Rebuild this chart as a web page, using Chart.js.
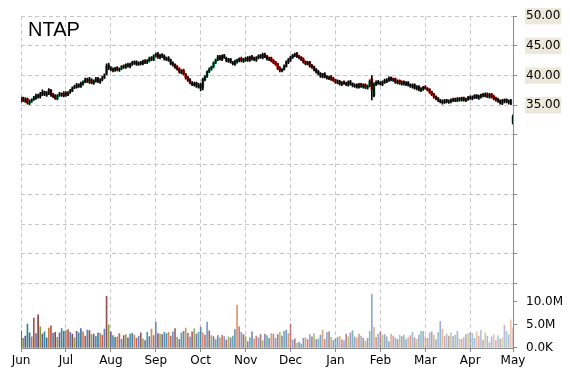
<!DOCTYPE html>
<html>
<head>
<meta charset="utf-8">
<script src="https://cdn.jsdelivr.net/npm/chart.js@4.4.1/dist/chart.umd.min.js"></script>
<style>
  html, body { margin: 0; padding: 0; background: #fff; }
  #wrap { position: relative; width: 570px; height: 370px; }
  #ticker { position: absolute; left: 28px; top: 18px; font: 20px "Liberation Sans", Arial, sans-serif; color: #000; }
</style>
</head>
<body>
<div id="wrap">
  <canvas id="chart" width="570" height="370"></canvas>
  <div id="ticker">NTAP</div>
</div>
<script>
// months on the x axis and how many trading days each one has
const monthNames = ["Jun", "Jul", "Aug", "Sep", "Oct", "Nov", "Dec", "Jan", "Feb", "Mar", "Apr", "May"];
const monthDays = [21, 21, 21, 21, 21, 21, 21, 21, 21, 21, 20, 1];

// daily prices, one line per month
const opens = [
  35.8, 36.2, 35.7, 36.1, 35.3, 35.7, 36.0, 36.2, 36.7, 36.4, 36.8, 37.3, 36.7, 37.0, 37.5, 36.8, 36.6, 36.1, 36.7, 37.0, 36.6,
  37.1, 36.7, 37.2, 37.4, 38.0, 38.0, 38.5, 38.1, 38.6, 38.9, 39.4, 38.9, 39.3, 38.7, 39.0, 39.5, 38.9, 39.3, 39.7, 40.3, 41.8,
  41.3, 41.0, 40.9, 41.3, 40.9, 41.2, 41.6, 41.4, 41.9, 41.5, 41.9, 42.1, 42.3, 41.9, 42.2, 42.0, 42.5, 42.2, 42.5, 43.0, 42.7,
  43.3, 43.7, 43.0, 43.5, 43.3, 42.7, 43.0, 42.6, 42.1, 41.9, 41.5, 41.2, 40.5, 40.9, 40.2, 39.7, 39.3, 38.8, 38.4, 38.8, 38.1,
  38.5, 38.0, 39.3, 39.9, 40.7, 41.1, 41.5, 42.2, 42.7, 43.2, 42.7, 43.4, 42.9, 42.4, 42.8, 42.2, 41.9, 42.3, 42.5, 42.9, 42.4,
  42.6, 43.0, 42.6, 43.2, 42.9, 42.6, 43.0, 43.4, 43.0, 43.6, 43.3, 42.7, 43.0, 42.6, 42.3, 42.0, 41.3, 40.8, 41.1, 41.5, 42.2,
  42.6, 43.0, 43.4, 43.7, 43.1, 43.1, 42.8, 42.4, 41.9, 42.3, 41.7, 41.5, 41.1, 40.7, 40.4, 39.8, 40.3, 39.9, 39.5, 39.8, 39.5,
  39.3, 38.8, 39.0, 38.5, 38.9, 38.8, 38.4, 39.0, 38.7, 38.2, 38.5, 38.0, 38.6, 38.1, 38.5, 37.9, 38.3, 39.5, 36.6, 38.5, 39.0,
  38.8, 38.5, 38.8, 39.3, 39.1, 39.7, 39.2, 39.5, 38.8, 39.2, 38.6, 39.0, 38.5, 38.9, 38.5, 38.1, 38.5, 37.8, 38.2, 37.5, 37.7,
  38.1, 37.8, 37.7, 37.3, 36.9, 36.5, 36.2, 35.8, 35.7, 35.4, 35.9, 35.5, 35.6, 35.8, 36.1, 35.7, 36.2, 35.8, 36.3, 35.8, 36.0,
  36.4, 36.1, 36.3, 36.7, 36.2, 36.4, 36.8, 36.5, 36.9, 36.4, 36.9, 36.5, 36.2, 36.0, 35.8, 35.3, 35.6, 36.0, 35.7, 35.3,
  32.0
];
const highs = [
  36.4, 36.4, 36.3, 36.2, 35.9, 36.1, 36.5, 36.9, 36.9, 37.2, 37.6, 37.4, 37.3, 37.8, 37.7, 37.0, 36.8, 36.8, 37.2, 37.1, 37.3,
  37.3, 37.3, 37.7, 38.1, 38.4, 38.7, 38.6, 38.9, 39.1, 39.6, 39.6, 39.7, 39.5, 39.3, 39.7, 39.7, 39.5, 39.9, 40.3, 42.0, 42.1,
  41.5, 41.3, 41.4, 41.5, 41.3, 41.7, 41.8, 42.0, 42.1, 42.1, 42.4, 42.5, 42.5, 42.3, 42.4, 42.6, 42.7, 42.7, 43.1, 43.2, 43.5,
  43.8, 43.9, 43.6, 43.7, 43.5, 43.1, 43.2, 42.8, 42.3, 42.0, 41.7, 41.3, 41.0, 41.1, 40.4, 39.9, 39.5, 39.0, 38.9, 38.9, 38.7,
  38.7, 39.6, 40.0, 40.8, 41.3, 41.6, 42.3, 42.8, 43.4, 43.4, 43.5, 43.6, 43.1, 42.9, 42.9, 42.4, 42.6, 42.8, 43.0, 43.1, 42.9,
  43.1, 43.2, 43.3, 43.4, 43.1, 43.2, 43.5, 43.6, 43.8, 43.8, 43.4, 43.1, 43.1, 42.7, 42.4, 42.1, 41.5, 41.2, 41.8, 42.5, 42.9,
  43.3, 43.6, 43.8, 43.9, 43.4, 43.2, 43.0, 42.5, 42.4, 42.4, 41.9, 41.6, 41.2, 40.9, 40.5, 40.4, 40.5, 40.0, 39.9, 40.0, 39.7,
  39.4, 39.3, 39.2, 39.0, 39.1, 38.9, 39.1, 39.2, 38.8, 38.6, 38.6, 38.7, 38.7, 38.6, 38.6, 38.4, 39.3, 40.0, 38.8, 39.1, 39.2,
  39.0, 39.1, 39.4, 39.5, 39.8, 39.8, 39.6, 39.6, 39.3, 39.3, 39.1, 39.1, 39.0, 39.0, 38.6, 38.6, 38.6, 38.3, 38.3, 38.0, 38.2,
  38.3, 38.0, 37.8, 37.4, 37.0, 36.6, 36.3, 36.0, 35.9, 36.0, 36.0, 35.9, 36.1, 36.2, 36.2, 36.3, 36.3, 36.4, 36.4, 36.2, 36.5,
  36.6, 36.6, 36.8, 36.8, 36.7, 36.9, 37.0, 37.1, 37.1, 37.0, 37.0, 36.7, 36.4, 36.2, 35.9, 36.0, 36.1, 36.1, 35.9, 36.0,
  33.4
];
const lows = [
  35.5, 35.6, 35.5, 35.2, 35.1, 35.5, 35.8, 36.0, 36.2, 36.2, 36.6, 36.6, 36.5, 36.8, 36.5, 36.3, 36.0, 35.9, 36.5, 36.5, 36.4,
  36.5, 36.6, 37.0, 37.3, 37.8, 37.9, 38.0, 38.0, 38.4, 38.8, 38.8, 38.7, 38.6, 38.5, 38.9, 38.8, 38.7, 39.1, 39.5, 40.1, 41.0,
  40.8, 40.6, 40.7, 40.8, 40.7, 41.0, 41.2, 41.2, 41.4, 41.3, 41.7, 41.9, 41.7, 41.7, 41.8, 41.8, 42.0, 42.0, 42.3, 42.5, 42.5,
  43.1, 42.9, 42.8, 43.0, 42.6, 42.5, 42.4, 41.8, 41.6, 41.2, 40.9, 40.4, 40.3, 40.1, 39.4, 39.0, 38.6, 38.3, 38.2, 38.0, 37.9,
  37.4, 37.6, 39.1, 39.7, 40.5, 40.9, 41.3, 42.0, 42.5, 42.6, 42.5, 42.9, 42.3, 42.2, 42.1, 41.8, 41.7, 42.1, 42.3, 42.3, 42.2,
  42.4, 42.4, 42.4, 42.6, 42.5, 42.4, 42.8, 42.9, 42.8, 43.0, 42.6, 42.5, 42.3, 42.0, 41.7, 41.0, 40.6, 40.6, 40.9, 41.4, 42.0,
  42.4, 42.9, 43.2, 43.0, 42.8, 42.5, 42.1, 41.8, 41.8, 41.4, 41.2, 40.8, 40.4, 40.1, 39.7, 39.6, 39.6, 39.4, 39.3, 39.2, 39.0,
  38.7, 38.6, 38.4, 38.3, 38.5, 38.3, 38.2, 38.4, 38.1, 38.0, 37.9, 37.9, 38.0, 37.9, 37.8, 37.7, 38.1, 35.9, 36.4, 38.3, 38.5,
  38.4, 38.3, 38.7, 38.8, 39.0, 39.1, 39.0, 38.7, 38.6, 38.5, 38.4, 38.4, 38.3, 38.2, 38.0, 37.9, 37.7, 37.6, 37.4, 37.3, 37.5,
  37.7, 37.4, 37.0, 36.6, 36.2, 35.9, 35.6, 35.4, 35.2, 35.3, 35.4, 35.3, 35.4, 35.6, 35.6, 35.6, 35.7, 35.7, 35.7, 35.6, 35.8,
  36.0, 35.9, 36.1, 36.1, 36.0, 36.2, 36.4, 36.4, 36.3, 36.2, 36.2, 35.9, 35.7, 35.5, 35.2, 35.1, 35.4, 35.4, 35.2, 35.1,
  31.8
];
const closes = [
  36.1, 35.8, 36.0, 35.4, 35.6, 35.9, 36.3, 36.6, 36.4, 36.9, 37.2, 36.8, 37.0, 37.6, 36.7, 36.5, 36.2, 36.6, 36.9, 36.7, 37.0,
  36.8, 37.1, 37.5, 37.9, 38.1, 38.4, 38.2, 38.7, 38.9, 39.3, 39.0, 39.4, 38.8, 39.1, 39.4, 39.0, 39.2, 39.6, 40.1, 41.6, 41.3,
  41.1, 40.9, 41.2, 41.0, 41.1, 41.5, 41.4, 41.8, 41.6, 41.9, 42.2, 42.3, 41.9, 42.1, 42.0, 42.4, 42.2, 42.5, 42.9, 42.7, 43.2,
  43.6, 43.1, 43.4, 43.3, 42.8, 42.9, 42.6, 42.0, 41.9, 41.4, 41.1, 40.6, 40.8, 40.3, 39.6, 39.2, 38.9, 38.5, 38.7, 38.2, 38.4,
  37.9, 39.4, 39.8, 40.6, 41.0, 41.4, 42.1, 42.6, 43.1, 42.8, 43.3, 43.0, 42.5, 42.7, 42.3, 42.0, 42.4, 42.6, 42.8, 42.5, 42.7,
  42.9, 42.6, 43.1, 42.8, 42.7, 43.0, 43.3, 43.1, 43.6, 43.2, 42.8, 42.9, 42.5, 42.2, 41.9, 41.2, 40.9, 41.0, 41.6, 42.3, 42.7,
  43.1, 43.4, 43.6, 43.2, 43.0, 42.7, 42.3, 42.0, 42.2, 41.6, 41.4, 41.0, 40.6, 40.3, 39.9, 40.2, 39.8, 39.6, 39.7, 39.4, 39.2,
  38.9, 39.1, 38.6, 38.8, 38.7, 38.5, 38.9, 38.6, 38.3, 38.4, 38.1, 38.5, 38.2, 38.4, 38.0, 38.2, 39.0, 37.6, 38.6, 38.9, 38.7,
  38.6, 38.9, 39.2, 39.0, 39.6, 39.3, 39.4, 38.9, 39.1, 38.7, 38.9, 38.6, 38.8, 38.4, 38.2, 38.4, 37.9, 38.1, 37.6, 37.8, 38.0,
  37.9, 37.6, 37.2, 36.8, 36.4, 36.1, 35.9, 35.6, 35.5, 35.8, 35.6, 35.7, 35.9, 36.0, 35.8, 36.1, 35.9, 36.2, 35.9, 36.0, 36.3,
  36.2, 36.4, 36.6, 36.3, 36.5, 36.7, 36.6, 36.9, 36.5, 36.8, 36.4, 36.1, 35.9, 35.7, 35.4, 35.8, 35.9, 35.6, 35.5, 35.8,
  33.2
];
// daily volume in millions of shares
const volumes = [
  3.7, 2.1, 2.6, 5.2, 3.3, 2.4, 6.5, 3.1, 7.2, 4.6, 3.0, 3.5, 2.2, 4.3, 4.8, 3.2, 3.4, 2.3, 3.3, 4.2, 3.6,
  3.8, 4.0, 3.4, 3.0, 2.2, 3.6, 3.3, 4.2, 3.5, 2.6, 3.9, 3.8, 2.9, 3.0, 2.5, 3.3, 3.2, 2.8, 4.1, 11.2, 5.0,
  3.5, 2.7, 2.3, 2.4, 3.1, 1.9, 2.7, 2.9, 2.2, 3.0, 3.2, 2.8, 2.1, 2.6, 3.3, 2.0, 1.6, 3.4, 2.5, 4.1, 2.7,
  5.6, 3.1, 3.0, 2.9, 3.4, 3.1, 3.4, 2.6, 3.5, 4.2, 2.3, 1.9, 3.3, 3.6, 4.3, 3.2, 2.4, 3.5, 4.2, 3.0, 3.4,
  4.5, 3.3, 2.8, 5.6, 3.7, 2.7, 2.5, 1.8, 2.7, 2.2, 2.8, 2.5, 1.7, 2.4, 2.2, 2.6, 4.0, 9.3, 4.6, 3.4, 2.9,
  2.5, 1.4, 2.2, 3.5, 2.0, 2.6, 2.2, 2.9, 1.6, 3.0, 2.7, 2.1, 3.1, 3.0, 2.1, 2.9, 3.4, 2.6, 3.6, 3.9, 3.1,
  5.2, 1.7, 2.0, 1.0, 1.3, 0.9, 2.1, 2.2, 1.8, 2.9, 2.4, 3.1, 1.8, 2.0, 2.8, 3.9, 1.9, 3.4, 3.5, 2.3, 1.6,
  2.0, 2.3, 2.6, 1.8, 1.6, 3.0, 2.5, 3.3, 3.7, 2.4, 2.2, 3.0, 2.6, 2.1, 1.5, 2.1, 3.6, 11.7, 4.5, 2.3, 3.0,
  3.5, 2.8, 2.9, 2.4, 1.4, 3.0, 2.6, 2.2, 1.9, 2.8, 2.5, 2.8, 1.8, 2.3, 2.7, 3.4, 2.2, 1.9, 2.8, 3.6, 3.6,
  2.4, 2.1, 3.3, 3.5, 2.8, 1.8, 3.4, 5.8, 4.1, 2.6, 3.0, 2.6, 3.3, 2.5, 2.8, 3.6, 2.0, 1.9, 2.3, 2.9, 3.1,
  3.3, 3.2, 2.1, 3.5, 2.6, 3.9, 1.7, 3.3, 2.6, 1.2, 2.4, 2.9, 1.6, 2.7, 1.9, 2.2, 4.9, 3.6, 2.9, 6.1,
  4.4
];

const monthStarts = [];
let day = 0;
monthDays.forEach((n) => { monthStarts.push(day); day += n; });
const lastDay = opens.length - 1;

const UP = "#00a060";
const DOWN = "#ff0000";
const GRID = "#c8c8c8";
const AXIS = "#8c8c8c";
const volPalette = [
  [139, 58, 58], [122, 154, 58], [106, 76, 147], [42, 138, 138],
  [58, 102, 168], [200, 117, 51], [176, 74, 74], [74, 122, 184]
];
const labelFont = { family: "'DejaVu Sans', Verdana, sans-serif", size: 12 };

function volColor(i) {
  const c = volPalette[i % volPalette.length];
  // later bars fade towards pastel, as in the reference
  const a = (1 - 0.6 * i / lastDay).toFixed(2);
  return `rgba(${c[0]},${c[1]},${c[2]},${a})`;
}

const wickData = opens.map((o, i) => ({ x: i, y: [lows[i], highs[i]] }));
const bodyData = opens.map((o, i) => ({ x: i, y: [o, closes[i]] }));
const bodyColors = opens.map((o, i) => (closes[i] >= o ? UP : DOWN));
const volData = volumes.map((v, i) => ({ x: i, y: v }));

new Chart(document.getElementById("chart"), {
  type: "bar",
  data: {
    datasets: [
      // first dataset is painted last, so the black wick sits over its body
      { data: wickData, yAxisID: "y", backgroundColor: "#000", barThickness: 1, grouped: false },
      { data: bodyData, yAxisID: "y", backgroundColor: bodyColors, barThickness: 2, minBarLength: 1, grouped: false },
      { data: volData, yAxisID: "yv", backgroundColor: volData.map((d, i) => volColor(i)), barThickness: 1, grouped: false },
    ],
  },
  options: {
    responsive: false,
    animation: false,
    layout: { padding: { left: 21, top: 14, right: 0, bottom: 0 } },
    plugins: { legend: { display: false }, tooltip: { enabled: false } },
    scales: {
      x: {
        type: "linear",
        offset: false,
        min: 0,
        max: lastDay,
        afterBuildTicks: (s) => { s.ticks = monthStarts.map((v) => ({ value: v })); },
        afterFit: (s) => { s.height = 22; },
        ticks: {
          autoSkip: false,
          maxRotation: 0,
          color: "#000",
          font: labelFont,
          padding: 2,
          callback: (v) => monthNames[monthStarts.indexOf(v)],
        },
        grid: { offset: false, color: GRID, tickColor: AXIS, tickLength: 4 },
        border: { display: true, color: AXIS, dash: [4, 3] },
      },
      y: {
        position: "right",
        stack: "pv",
        stackWeight: 269,
        min: 5,
        max: 50,
        afterFit: (s) => { s.width = 57; },
        ticks: {
          stepSize: 5,
          autoSkip: false,
          color: "#000",
          font: labelFont,
          padding: 9,
          showLabelBackdrop: true,
          backdropColor: (c) => (c.tick && c.tick.value >= 35 ? "#ece9da" : "rgba(0,0,0,0)"),
          backdropPadding: { x: 1, y: 1 },
          callback: (v) => (v >= 35 ? v.toFixed(2) : ""),
        },
        grid: { color: GRID, tickColor: AXIS, tickLength: 4 },
        border: { display: true, color: AXIS, dash: [4, 3] },
      },
      yv: {
        position: "right",
        stack: "pv",
        stackWeight: 65,
        min: 0,
        max: 14,
        afterFit: (s) => { s.width = 57; },
        ticks: {
          stepSize: 5,
          autoSkip: false,
          includeBounds: false,
          color: "#000",
          font: labelFont,
          padding: 9,
          callback: (v) => (v === 0 ? "0.0K" : v.toFixed(1) + "M"),
        },
        grid: { drawOnChartArea: false, tickColor: AXIS, tickLength: 4 },
        border: { display: true, color: AXIS },
      },
    },
  },
});
</script>
</body>
</html>
